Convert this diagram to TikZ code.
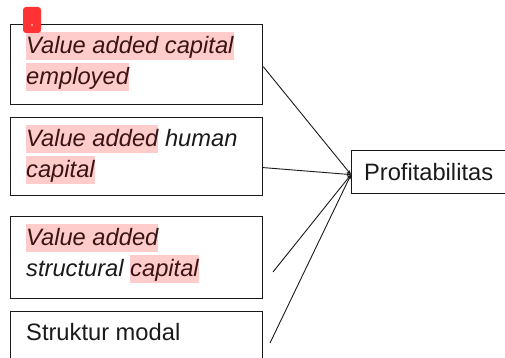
\documentclass[tikz,border=0pt]{standalone}
\usepackage{fontspec}
\setmainfont{Liberation Sans}
\usetikzlibrary{arrows.meta,calc}
\definecolor{hlpink}{HTML}{FFCCCC}
\definecolor{hltext}{HTML}{3A1414}
\definecolor{ink}{HTML}{1A1A1A}
\definecolor{markred}{HTML}{FF3333}
\newcommand{\hlstrut}{\vrule height 21pt depth 7pt width 0pt}
\newcommand{\hlbox}[1]{{\setlength{\fboxsep}{0pt}\colorbox{hlpink}{\hlstrut\color{hltext}#1}}}
\begin{document}
\begin{tikzpicture}[x=1pt,y=-1pt,
  boxst/.style={draw=ink, line width=1.2pt, minimum width=252pt, anchor=north west, inner sep=0pt},
  txt/.style={anchor=north west, inner sep=0pt, align=left, font=\fontsize{23.7}{31}\selectfont, text=ink},
  conn/.style={draw=ink, line width=0.9pt, -{Stealth[length=4.5pt,width=3.5pt]}}]
\useasboundingbox (0,0) rectangle (505,358);
\node[boxst, minimum height=80pt] (b1) at (10,24) {};
\node[boxst, minimum height=78pt] (b2) at (10,117) {};
\node[boxst, minimum height=82pt] (b3) at (10,216) {};
\node[boxst, minimum height=80pt] (b4) at (10,311) {};
\node[txt] (t1) at ($(b1.north west)+(16,8)$) {\itshape\hlbox{Value added capital}\\\itshape\hlbox{employed}};
\node[txt] (t2) at ($(b2.north west)+(16,8)$) {\itshape\hlbox{Value added} human\\\itshape\hlbox{capital}};
\node[txt] (t3) at ($(b3.north west)+(16,8)$) {\itshape\hlbox{Value added}\\\itshape\hlstrut structural \hlbox{capital}};
\node[txt] (t4) at ($(b4.north west)+(16,8)$) {\hlstrut Struktur modal};
\node[draw=ink, line width=1.2pt, anchor=north west, minimum width=154pt, minimum height=43pt, inner sep=0pt, font=\fontsize{23.7}{28}\selectfont, text=ink] (p) at (351,150) {Profitabilitas};
\coordinate (tip) at ($(p.west)+(0,2.5)$);
\coordinate (c3) at (273,272);
\coordinate (c4) at (270,343);
\draw[conn] ($(b1.east)+(0,2)$) -- (tip);
\draw[conn] ($(b2.east)+(0,11)$) -- (tip);
\draw[conn] (c3) -- (tip);
\draw[conn] (c4) -- (tip);
\fill[markred, rounded corners=3pt] (23,7) rectangle (41,33);
\fill[white] (32,25) circle (0.8);
\end{tikzpicture}
\end{document}
